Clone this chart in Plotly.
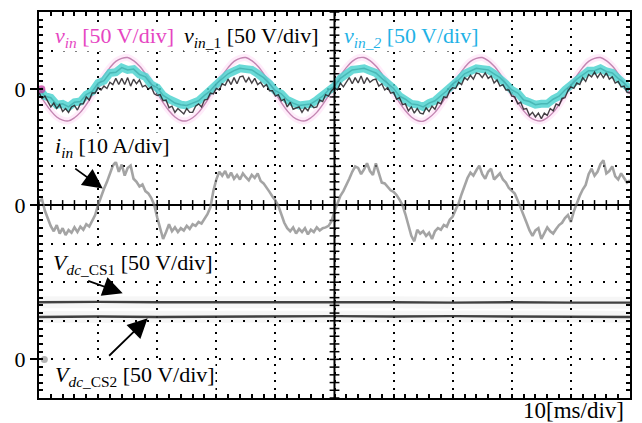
import plotly.graph_objects as go

# ---------------- data ----------------
t_v = list(range(0, 101))                 # ms, 1 ms samples
t_fast = [k / 2 for k in range(201)]      # ms, 0.5 ms samples

# v_in (magenta), V  (50 V/div)
v_in = [
    -5, -17.5, -28, -36, -40, -41, -37, -30, -20, -8, 5, 17.5, 28, 36, 40, 41, 37, 30, 20, 8,
    -5, -17.5, -28, -36, -40.5, -41, -37, -30, -20, -8, 5, 17.5, 28, 36, 40, 41, 37, 30, 20, 8,
    -5, -17.5, -28, -36, -40, -41, -37, -30, -20, -8, 5, 17.5, 28, 36, 40.5, 41, 37, 30, 20, 8,
    -5, -17.5, -28, -36, -40.5, -41.5, -37, -30, -20, -8, 5, 17.5, 28, 36, 40, 41, 37, 30, 20, 8,
    -5, -17.5, -28, -36, -40, -41, -37, -30, -20, -8, 5, 17.5, 28, 36, 40, 41, 37, 30, 20, 8,
    -5,
]

# v_in_2 (cyan), V
v_in_2 = [
    0, -9, -11, -20, -19, -23, -17, -16, -7, -3, 8, 11, 21, 22, 28, 25, 26, 19, 16, 6,
    2, -8, -13, -18, -20, -21, -18, -15, -8, -2, 7, 13, 20, 24, 27, 26, 25, 20, 15, 7,
    -2, -6, -14, -18, -21, -20, -19, -14, -9, -1, 4, 14, 19, 25, 26, 27, 24, 21, 14, 8,
    1, -9, -13, -19, -20, -23, -18, -15, -8, -2, 7, 12, 20, 23, 27, 26, 25, 20, 15, 7,
    -1, -5, -14, -16, -20, -19, -19, -13, -9, -1, 5, 13, 18, 24, 24, 27, 23, 21, 14, 8,
    0,
]

# v_in_1 (black), V, 0.5 ms samples
v_in_1 = [
    -4, -12, -9, -17, -23, -18, -25, -20, -29, -25, -30, -23, -21, -27, -19, -19, -10, -14, -5, -5,
    2, -1, 4, 1, 9, 6, 14, 6, 14, 6, 15, 4, 13, 7, 12, 3, 5, 0, 3, -6,
    -8, -7, -15, -14, -24, -22, -30, -25, -28, -32, -25, -30, -30, -22, -19, -23, -14, -13, -5, -6,
    1, -1, 7, 5, 13, 6, 15, 7, 16, 17, 9, 15, 8, 14, 6, 9, 3, 6, -2, -2,
    -9, -7, -15, -13, -23, -17, -26, -24, -23, -30, -24, -28, -20, -24, -23, -14, -16, -7, -9, -2,
    2, -1, 8, 3, 10, 15, 7, 15, 8, 17, 7, 15, 9, 12, 13, 4, 7, -1, 2, -5,
    -4, -13, -11, -20, -19, -28, -23, -31, -25, -31, -32, -24, -29, -22, -26, -17, -19, -10, -11, -2,
    2, 1, 9, 6, 15, 12, 18, 13, 21, 20, 15, 21, 14, 17, 8, 12, 4, 6, -1, -1,
    -9, -10, -19, -17, -26, -25, -34, -30, -36, -31, -38, -31, -34, -25, -28, -19, -21, -12, -11, -2,
    3, 1, 8, 6, 15, 10, 19, 16, 22, 15, 21, 15, 21, 13, 16, 8, 10, 3, 4, -4,
    -5,
]

# i_in (grey), A (10 A/div), 0.5 ms samples
i_in = [
    1.0, 1.5, -1.5, -3.6, -5.5, -6.8, -5.2, -7.4, -6.0, -7.8, -6.5, -7.2, -5.8, -7.0, -5.6, -6.4, -5.0, -5.6, -4.0, -2.6,
    0.0, 2.4, 4.2, 6.0, 8.4, 10.2, 11.2, 8.6, 10.5, 7.6, 9.6, 10.2, 6.8, 6.0, 4.8, 5.3, 3.6, 3.0, 1.8, 0.0,
    -3.2, -6.4, -8.8, -7.0, -5.0, -6.8, -5.8, -7.0, -6.0, -6.6, -5.4, -6.2, -5.0, -5.4, -4.4, -4.8, -3.6, -2.4, -0.6, 3.6,
    6.6, 8.6, 7.6, 8.8, 7.0, 8.4, 6.8, 7.8, 6.6, 8.2, 7.2, 6.4, 7.8, 7.0, 8.2, 6.2, 5.6, 4.6, 3.4, 2.2,
    1.2, -0.2, -2.6, -4.6, -6.0, -6.8, -5.8, -7.4, -6.2, -7.0, -6.0, -7.6, -6.4, -7.0, -5.8, -6.6, -6.0, -5.8, -5.4, -4.2,
    -1.6, 0.4, 2.4, 3.6, 5.0, 6.8, 8.6, 10.0, 9.6, 8.0, 9.2, 10.8, 8.8, 7.8, 10.8, 8.0, 5.8, 5.6, 4.8, 3.8,
    3.4, 2.6, 1.4, 0.0, -2.4, -5.0, -8.0, -9.4, -6.4, -7.4, -6.8, -8.0, -7.2, -8.8, -6.8, -6.0, -6.4, -5.2, -5.6, -3.8,
    -3.0, -1.2, 0.4, 2.8, 5.0, 7.0, 8.4, 7.6, 9.0, 10.2, 8.0, 6.8, 8.6, 9.4, 6.6, 7.4, 8.2, 6.6, 5.8, 4.4,
    3.8, 3.0, 1.2, -0.6, -2.8, -4.6, -6.6, -8.0, -6.6, -6.0, -8.8, -7.2, -5.8, -6.8, -7.4, -6.2, -5.2, -4.6, -3.4, -2.6,
    -4.4, -1.6, 0.6, 2.4, 4.0, 5.2, 8.0, 9.4, 7.6, 8.6, 10.6, 11.6, 8.2, 8.8, 10.0, 7.4, 6.6, 8.2, 7.0, 5.8,
    6.4,
]

# DC-link voltages, V (50 V/div)
t_dc = [0, 10, 20, 30, 40, 50, 60, 70, 80, 90, 100]
v_dc_cs1 = [74, 74.5, 74, 74, 74.5, 74, 74, 73.5, 74, 73.5, 73.5]
v_dc_cs2 = [55, 55.5, 55, 55.5, 55.5, 56, 55.5, 56, 55.5, 55.5, 55]

# channel ground markers
mark_t = [0.4]
mark_v = [0]

# graticule (divisions)
div_minor = [k / 5 for k in range(-25, 26)]

# ---------------- figure ----------------
SERIF = "Liberation Serif, Times New Roman, serif"
FS = 22
fig = go.Figure()

fig.add_trace(go.Scatter(x=t_v, y=v_in, xaxis="x", yaxis="y2", mode="lines",
                         line=dict(color="rgba(255,170,230,0.22)", width=7, shape="spline"),
                         hoverinfo="skip", showlegend=False))
fig.add_trace(go.Scatter(x=t_v, y=v_in, xaxis="x", yaxis="y2", mode="lines",
                         line=dict(color="rgba(185,115,165,0.85)", width=1.4, shape="spline"),
                         showlegend=False))
fig.add_trace(go.Scatter(x=t_v, y=v_in_2, xaxis="x", yaxis="y2", mode="lines",
                         line=dict(color="rgba(80,212,208,0.85)", width=8),
                         showlegend=False))
fig.add_trace(go.Scatter(x=t_v, y=v_in_2, xaxis="x", yaxis="y2", mode="lines",
                         line=dict(color="rgba(40,150,150,0.5)", width=1.5),
                         hoverinfo="skip", showlegend=False))
fig.add_trace(go.Scatter(x=t_fast, y=v_in_1, xaxis="x", yaxis="y2", mode="lines",
                         line=dict(color="rgba(35,30,35,0.85)", width=1.4),
                         showlegend=False))
fig.add_trace(go.Scatter(x=mark_t, y=mark_v, xaxis="x", yaxis="y2", mode="markers",
                         marker=dict(color="rgba(200,60,160,0.75)", size=8),
                         hoverinfo="skip", showlegend=False))

fig.add_trace(go.Scatter(x=t_fast, y=i_in, xaxis="x", yaxis="y3", mode="lines",
                         line=dict(color="rgba(125,125,125,0.7)", width=2.6),
                         showlegend=False))

for vals in (v_dc_cs1, v_dc_cs2):
    fig.add_trace(go.Scatter(x=t_dc, y=vals, xaxis="x", yaxis="y4", mode="lines",
                             line=dict(color="rgba(0,0,0,0.035)", width=12),
                             hoverinfo="skip", showlegend=False))
    fig.add_trace(go.Scatter(x=t_dc, y=vals, xaxis="x", yaxis="y4", mode="lines",
                             line=dict(color="rgba(45,45,45,0.9)", width=2.4),
                             showlegend=False))
fig.add_trace(go.Scatter(x=[0.9], y=[0], xaxis="x", yaxis="y4", mode="markers",
                         marker=dict(color="rgba(150,150,150,0.7)", size=7),
                         hoverinfo="skip", showlegend=False))

# graticule centre-line ticks
fig.add_trace(go.Scatter(x=[50] * len(div_minor), y=div_minor, xaxis="x", yaxis="y",
                         mode="markers", marker=dict(symbol="line-ew", size=7,
                                                     line=dict(color="black", width=1.5)),
                         hoverinfo="skip", showlegend=False))
fig.add_trace(go.Scatter(x=[50 + 10 * d for d in div_minor], y=[0] * len(div_minor),
                         xaxis="x", yaxis="y", mode="markers",
                         marker=dict(symbol="line-ns", size=7,
                                     line=dict(color="black", width=1.5)),
                         hoverinfo="skip", showlegend=False))

minor_x = dict(dtick=2, tick0=0, ticks="inside", ticklen=4, tickwidth=1.5,
               tickcolor="black", showgrid=False)
minor_y = dict(dtick=0.2, tick0=0, ticks="inside", ticklen=4, tickwidth=1.5,
               tickcolor="black", showgrid=False)

layout = dict(
    width=642, height=423,
    margin=dict(l=39, r=10, t=11, b=25),
    paper_bgcolor="white", plot_bgcolor="white",
    font=dict(family=SERIF, size=FS, color="black"),
    xaxis=dict(range=[0, 100], dtick=10, tick0=0, showgrid=True, gridcolor="black",
               gridwidth=2, griddash="2px,6px", showline=True, linecolor="black",
               linewidth=2, mirror="ticks", ticks="inside", ticklen=4, tickwidth=1.5,
               tickcolor="black", minor=minor_x, showticklabels=False, zeroline=False,
               fixedrange=True),
    yaxis=dict(range=[-5, 5], dtick=1, tick0=0, showgrid=True, gridcolor="black",
               gridwidth=2, griddash="2px,10px", showline=True, linecolor="black",
               linewidth=2, mirror="ticks", ticks="inside", ticklen=4, tickwidth=1.5,
               tickcolor="black", minor=minor_y, showticklabels=False,
               zeroline=True, zerolinecolor="black", zerolinewidth=2, fixedrange=True),
)
for name, rng in (("yaxis2", [-400, 100]), ("yaxis3", [-50, 50]), ("yaxis4", [-50, 450])):
    layout[name] = dict(overlaying="y", anchor="x", side="left", range=rng,
                        tickmode="array", tickvals=[0], ticktext=["0"], ticks="outside",
                        ticklen=8, tickwidth=2, tickcolor="black", showline=False,
                        showgrid=False, zeroline=False, fixedrange=True,
                        tickfont=dict(family=SERIF, size=FS, color="black"))
fig.update_layout(**layout)

# vertical centre line of the graticule
fig.add_shape(type="line", xref="x", yref="paper", x0=50, x1=50, y0=0, y1=1,
              line=dict(color="black", width=2), layer="above")


def px_x(p):
    return (p - 39) / 593


def px_y(p):
    return (398 - p) / 387


labels = [
    ("<i>v</i><sub><i>in</i></sub> [50 V/div]", 54, 36, "#e645c2", "left"),
    ("<i>v</i><sub><i>in_</i>1</sub> [50 V/div]", 183, 36, "black", "left"),
    ("<i>v</i><sub><i>in_2</i></sub> [50 V/div]", 344, 36, "#1fb2e6", "left"),
    ("<i>i</i><sub><i>in</i></sub> [10 A/div]", 54, 146, "black", "left"),
    ("<i>V</i><sub><i>dc</i>_CS1</sub> [50 V/div]", 52, 264, "black", "left"),
    ("<i>V</i><sub><i>dc</i>_CS2</sub> [50 V/div]", 54, 376, "black", "left"),
]
for txt, x, y, col, anc in labels:
    fig.add_annotation(text=txt, xref="paper", yref="paper", x=px_x(x), y=px_y(y),
                       xanchor=anc, yanchor="middle", showarrow=False, bgcolor="white",
                       borderpad=0, font=dict(family=SERIF, size=FS, color=col))
fig.add_annotation(text="10[ms/div]", xref="paper", yref="paper", x=px_x(628), y=px_y(411),
                   xanchor="right", yanchor="middle", showarrow=False,
                   font=dict(family=SERIF, size=23, color="black"))

arrows = [((103, 188), (74, 167)), ((123, 293), (87, 280)), ((148, 318), (108, 357))]
for (hx, hy), (tx, ty) in arrows:
    fig.add_annotation(text="", xref="paper", yref="paper", x=px_x(hx), y=px_y(hy),
                       ax=tx - hx, ay=ty - hy, axref="pixel", ayref="pixel",
                       showarrow=True, arrowhead=2, arrowsize=2.2, arrowwidth=1.8,
                       arrowcolor="black", standoff=0)

fig.write_html("out.html", config={"displayModeBar": False},
               post_script="document.body.style.margin='0';")
